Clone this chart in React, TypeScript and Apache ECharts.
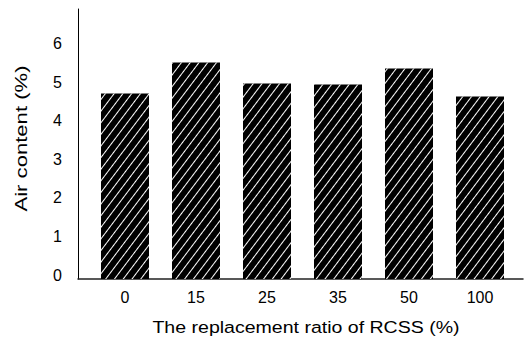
import React, { useEffect, useRef } from "react";
import * as echarts from "echarts";

const categories = ["0", "15", "25", "35", "50", "100"];
const airContent = [4.81, 5.61, 5.07, 5.04, 5.46, 4.73];
const yTicks = [0, 1, 2, 3, 4, 5, 6];
const xTitle = "The replacement ratio of RCSS (%)";
const yTitle = "Air content (%)";

export default function App() {
  const ref = useRef<HTMLDivElement>(null);
  useEffect(() => {
    if (!ref.current) return;
    const chart = echarts.init(ref.current, null, { renderer: "svg" });
    const font = "Liberation Sans, Arial, sans-serif";
    chart.setOption({
      animation: false,
      backgroundColor: "#fff",
      grid: [
        { left: 89.5, right: 8.5, top: 9, bottom: 60 },
        { left: 78, right: 1, top: 9, bottom: 60 },
      ],
      xAxis: [
        {
          gridIndex: 0,
          type: "category",
          data: categories,
          axisLine: { show: false },
          axisTick: { show: false },
          axisLabel: { color: "#000", fontSize: 16, fontFamily: font, margin: 10 },
        },
        {
          gridIndex: 1,
          type: "value",
          min: 0,
          max: 1,
          axisLine: { show: true, onZero: false, lineStyle: { color: "#222", width: 1.5 } },
          axisTick: { show: false },
          axisLabel: { show: false },
          splitLine: { show: false },
        },
      ],
      yAxis: [
        {
          gridIndex: 0,
          type: "value",
          min: 0,
          max: 7,
          interval: 1,
          show: false,
        },
        {
          gridIndex: 1,
          type: "value",
          min: 0,
          max: 7,
          interval: 1,
          axisLine: { show: true, lineStyle: { color: "#000", width: 1 } },
          axisTick: { show: false },
          splitLine: { show: false },
          axisLabel: {
            color: "#000",
            fontSize: 16,
            fontFamily: font,
            margin: 16,
            showMaxLabel: false,
            verticalAlign: "bottom",
            lineHeight: 8,
            formatter: (v: number) => (yTicks.includes(v) ? String(v) : ""),
          },
        },
      ],
      graphic: [
        {
          type: "text",
          x: 21,
          y: 138.5,
          rotation: Math.PI / 2,
          scaleX: 1.3,
          style: {
            text: yTitle,
            fill: "#000",
            fontSize: 17,
            fontFamily: font,
            align: "center",
            verticalAlign: "middle",
          },
        },
        {
          type: "text",
          x: 306,
          y: 327,
          scaleX: 1.15,
          style: {
            text: xTitle,
            fill: "#000",
            fontSize: 17,
            fontFamily: font,
            align: "center",
            verticalAlign: "middle",
          },
        },
      ],
      series: [
        {
          type: "bar",
          xAxisIndex: 0,
          yAxisIndex: 0,
          data: airContent,
          barWidth: 48,
          itemStyle: {
            color: "#000",
            decal: {
              symbol: "rect",
              symbolSize: 1,
              color: "#fff",
              dashArrayX: [1, 0],
              dashArrayY: [0.6, 5.9],
              rotation: -Math.PI / 3.4,
            },
          },
        },
      ],
    });
    return () => chart.dispose();
  }, []);
  return <div ref={ref} style={{ width: 524, height: 339, position: "absolute", left: 0, top: 0 }} />;
}
